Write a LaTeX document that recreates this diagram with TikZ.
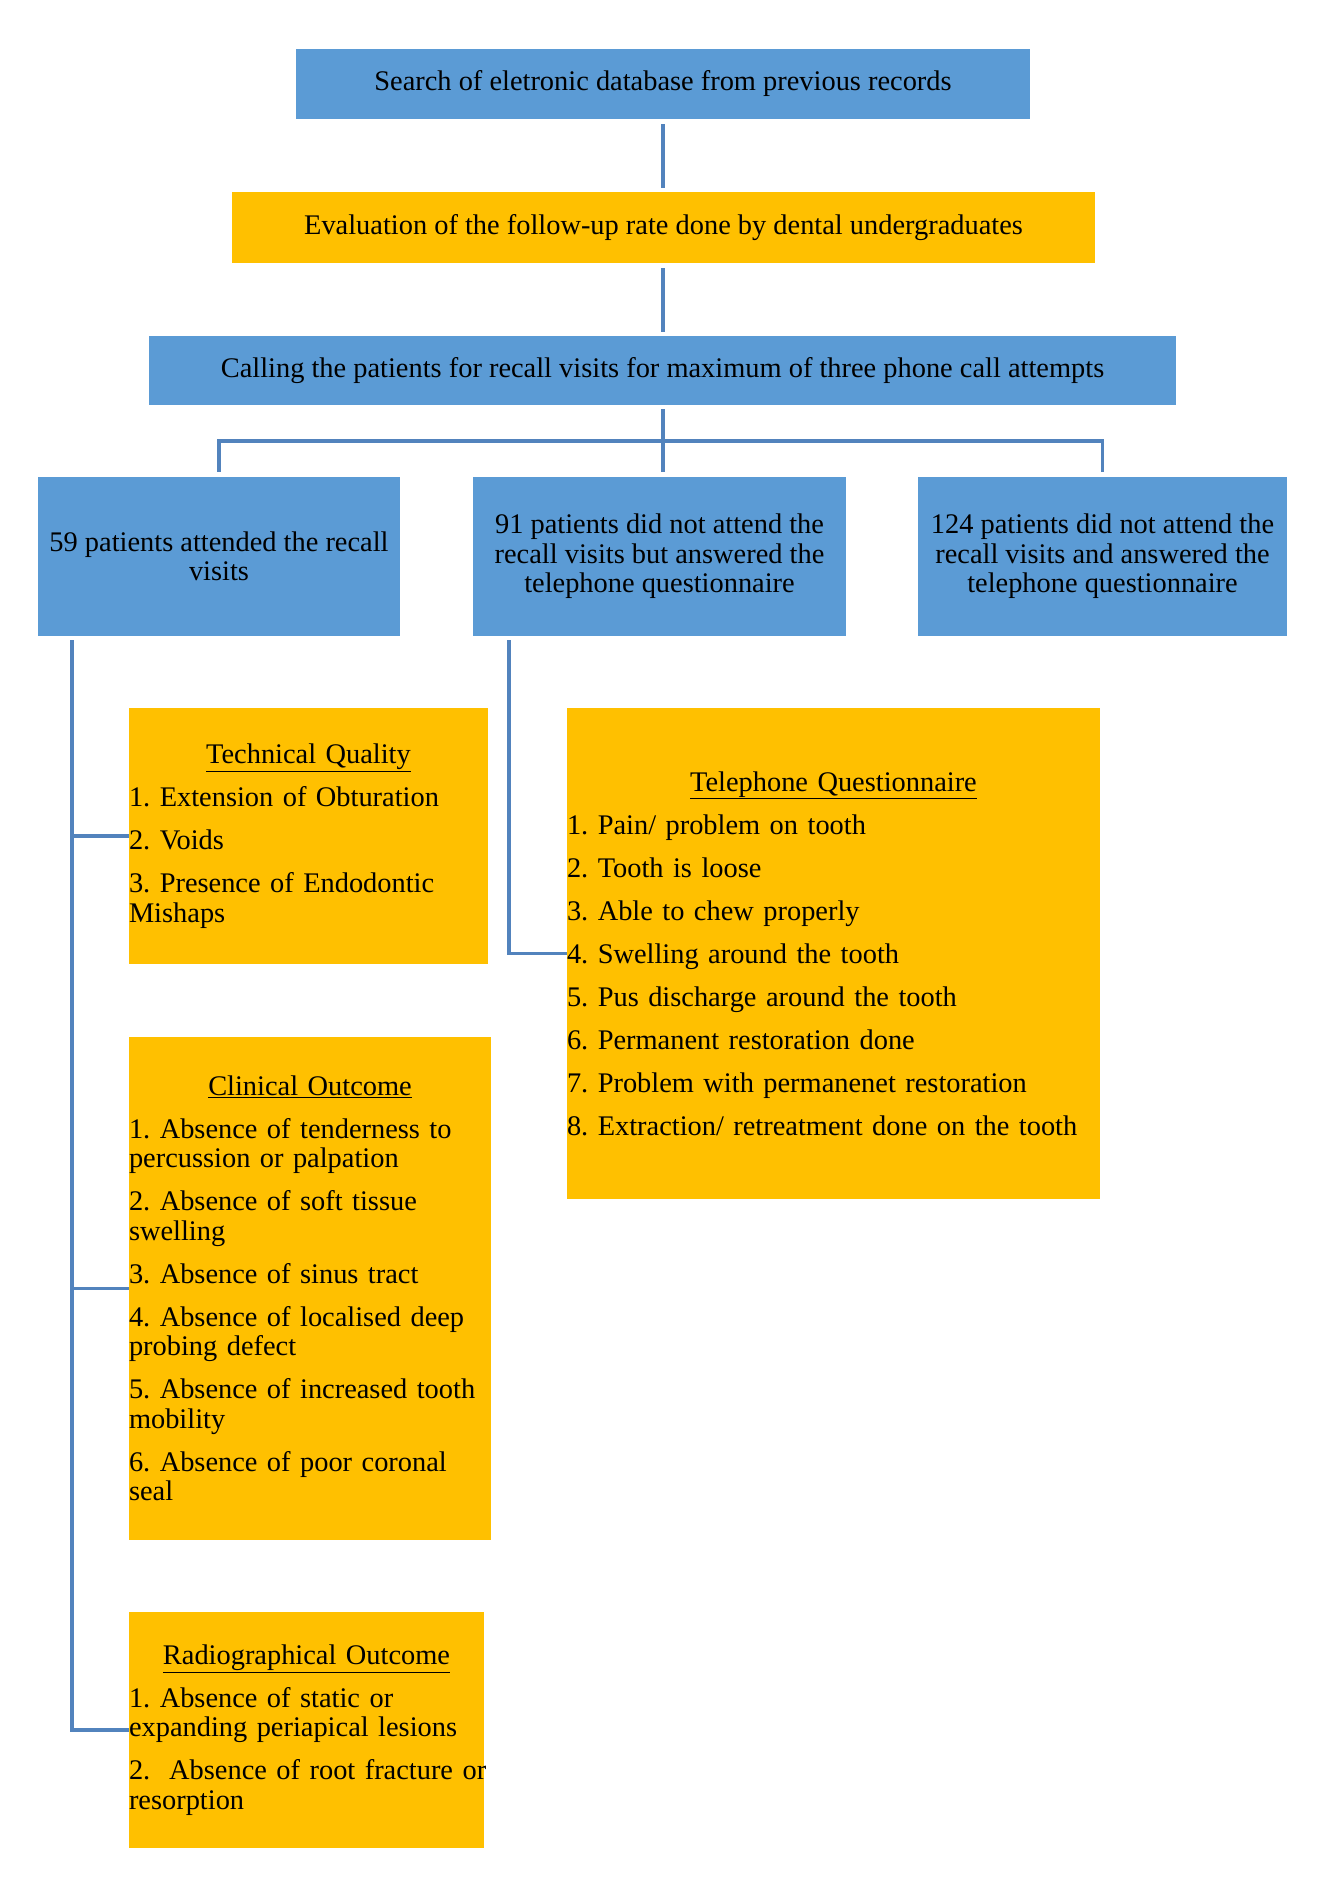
\documentclass[tikz,border=0pt]{standalone}
\usepackage{fontspec}
\setmainfont{Liberation Serif}
\definecolor{boxblue}{HTML}{5B9BD5}
\definecolor{boxyellow}{HTML}{FFC000}
\definecolor{linkblue}{HTML}{5283BD}
\begin{document}
\begin{tikzpicture}[x=1pt,y=-1pt,
  every node/.style={font=\fontsize{28.4}{29.5}\selectfont\frenchspacing},
  bluebox/.style={fill=boxblue, draw=none, inner sep=0pt, align=center, text=black},
  yellowbox/.style={fill=boxyellow, draw=none, inner sep=0pt, text=black,
    execute at begin node={\setlength{\parskip}{13.5pt}\setlength{\parindent}{0pt}\raggedright}},
  conn/.style={draw=linkblue, line width=3.4pt}
]
\useasboundingbox (0,0) rectangle (1333,1878);

% top chain
\node[bluebox, minimum width=734pt, minimum height=70pt] (b1) at (663,84)
  {Search of eletronic database from previous records};
\node[bluebox, fill=boxyellow, minimum width=863pt, minimum height=71pt] (b2) at (663.5,227.5)
  {Evaluation of the follow-up rate done by dental undergraduates};
\node[bluebox, minimum width=1027pt, minimum height=69pt] (b3) at (662.5,370.5)
  {Calling the patients for recall visits for maximum of three phone call attempts};

% three groups
\node[bluebox, minimum width=362pt, minimum height=159pt] (b4) at (219,556.5)
  {59 patients attended the recall\\visits};
\node[bluebox, minimum width=373pt, minimum height=159pt] (b5) at (659.5,556.5)
  {91 patients did not attend the\\recall visits but answered the\\telephone questionnaire};
\node[bluebox, minimum width=369pt, minimum height=159pt] (b6) at (1102.5,556.5)
  {124 patients did not attend the\\recall visits and answered the\\telephone questionnaire};

% detail boxes
\node[yellowbox, text width=359pt, minimum height=256pt] (tech) at (308.5,836)
  {{\centering\underline{Technical Quality}\par}
   1. Extension of Obturation\par
   2. Voids\par
   3. Presence of Endodontic\\Mishaps};

\node[yellowbox, text width=533pt, minimum height=491pt] (tel) at (833.5,953.5)
  {{\centering\underline{Telephone Questionnaire}\par}
   1. Pain/ problem on tooth\par
   2. Tooth is loose\par
   3. Able to chew properly\par
   4. Swelling around the tooth\par
   5. Pus discharge around the tooth\par
   6. Permanent restoration done\par
   7. Problem with permanenet restoration\par
   8. Extraction/ retreatment done on the tooth};

\node[yellowbox, text width=362pt, minimum height=503pt] (clin) at (310,1288.5)
  {{\centering\underline{Clinical Outcome}\par}
   1. Absence of tenderness to\\percussion or palpation\par
   2. Absence of soft tissue\\swelling\par
   3. Absence of sinus tract\par
   4. Absence of localised deep\\probing defect\par
   5. Absence of increased tooth\\mobility\par
   6. Absence of poor coronal\\seal};

\node[yellowbox, text width=355pt, minimum height=236pt] (radio) at (306.5,1730)
  {{\centering\underline{Radiographical Outcome}\par}
   1. Absence of static or\\expanding periapical lesions\par
   \mbox{2.\ \ Absence of root fracture or}\\resorption};

% connectors
\coordinate (mid) at (663,0);
\draw[conn, shorten <=5pt, shorten >=4pt] (b1.south -| mid) -- (b2.north -| mid);
\draw[conn, shorten <=5pt, shorten >=4pt] (b2.south -| mid) -- (b3.north -| mid);
\coordinate (bus) at (0,441);
\draw[conn, shorten <=4pt] (b3.south -| mid) -- (mid |- bus);
\draw[conn, shorten <=5pt, shorten >=5pt] (b4.north) -- (b4.north |- bus) -- (b6.north |- bus) -- (b6.north);
\draw[conn, shorten >=5pt] (mid |- bus) -- (b5.north -| mid);

\coordinate (spine) at (72,0);
\coordinate (spineb) at (509,0);
\path ([yshift=-4pt]b4.south) coordinate (b4s);
\path ([yshift=-4pt]b5.south) coordinate (b5s);
\draw[conn] (b4s -| spine) |- (radio.west);
\draw[conn] (tech.west -| spine) -- (tech.west);
\draw[conn] (clin.west -| spine) -- (clin.west);
\draw[conn] (b5s -| spineb) |- (tel.west);
\end{tikzpicture}
\end{document}
